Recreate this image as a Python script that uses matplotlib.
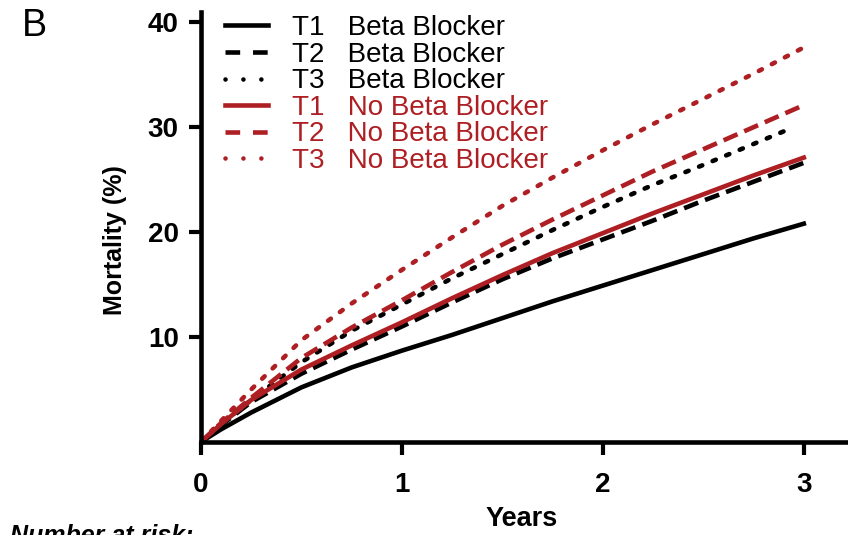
import matplotlib.pyplot as plt
from matplotlib.lines import Line2D

# follow-up times (years) and cumulative mortality (%) for each group
years = [0, 0.1, 0.25, 0.5, 0.75, 1.0, 1.25, 1.5, 1.75, 2.0, 2.25, 2.5, 2.75, 3.0]
bb_t1 = [0, 1.2, 2.8, 5.2, 7.1, 8.7, 10.2, 11.8, 13.4, 14.9, 16.4, 17.9, 19.4, 20.8]
bb_t2 = [0, 1.6, 3.8, 6.5, 8.8, 11.0, 13.3, 15.5, 17.5, 19.3, 21.1, 23.0, 24.8, 26.6]
bb_t3 = [0, 1.7, 4.0, 7.6, 10.6, 13.1, 15.6, 17.9, 20.2, 22.4, 24.5, 26.4, 28.4, 30.0]
nb_t1 = [0, 1.7, 4.0, 6.9, 9.2, 11.4, 13.7, 15.9, 18.0, 19.9, 21.8, 23.6, 25.4, 27.1]
nb_t2 = [0, 1.8, 4.2, 8.0, 10.9, 13.5, 16.2, 18.8, 21.2, 23.5, 25.8, 27.9, 30.0, 32.1]
nb_t3 = [0, 2.0, 5.0, 9.7, 13.2, 16.4, 19.5, 22.5, 25.2, 27.8, 30.3, 32.7, 35.1, 37.6]

labels = ["T1   Beta Blocker", "T2   Beta Blocker", "T3   Beta Blocker",
          "T1   No Beta Blocker", "T2   No Beta Blocker", "T3   No Beta Blocker"]

plt.rcParams['font.family'] = ['Liberation Sans', 'DejaVu Sans']

red = '#ae1f24'
dashed = (3.3, 1.6)
dotted = (0.75, 2.45)

fig = plt.figure(figsize=(8.48, 5.35), dpi=100)
ax = fig.add_axes([0.237, 0.174, 0.763, 0.804])

lw = 3.3
# the last black dotted curve stops slightly before 3 years
ax.plot(years, bb_t1, color='black', lw=lw)
ax.plot(years, bb_t2, color='black', lw=lw, dashes=dashed)
ax.plot(years[:-1] + [2.95], bb_t3, color='black', lw=lw, dashes=dotted,
        dash_capstyle='round')
ax.plot(years, nb_t1, color=red, lw=lw)
ax.plot(years, nb_t2, color=red, lw=lw, dashes=dashed)
ax.plot(years, nb_t3, color=red, lw=lw, dashes=dotted, dash_capstyle='round')

ax.set_xlim(0, 3.22)
ax.set_ylim(0, 41)
ax.set_xticks([0, 1, 2, 3])
ax.set_yticks([10, 20, 30, 40])
for s in ['top', 'right']:
    ax.spines[s].set_visible(False)
for s in ['left', 'bottom']:
    ax.spines[s].set_linewidth(3.3)
ax.tick_params(axis='both', width=3, length=9, labelsize=20)
ax.tick_params(axis='x', pad=13)
ax.tick_params(axis='y', pad=7)
for t in ax.get_xticklabels() + ax.get_yticklabels():
    t.set_fontweight('bold')

ax.set_xlabel("Years", fontsize=19.5, fontweight='bold')
ax.xaxis.set_label_coords(0.496, -0.148)
ax.set_ylabel("Mortality (%)", fontsize=18, fontweight='bold')
ax.yaxis.set_label_coords(-0.114, 0.47)

# legend with line samples
handles = [
    Line2D([], [], color='black', lw=lw),
    Line2D([], [], color='black', lw=lw, dashes=(3.2, 2.8)),
    Line2D([], [], color='black', lw=lw, dashes=(0.01, 3.9), dash_capstyle='round'),
    Line2D([], [], color=red, lw=lw),
    Line2D([], [], color=red, lw=lw, dashes=(3.2, 2.8)),
    Line2D([], [], color=red, lw=lw, dashes=(0.01, 3.9), dash_capstyle='round'),
]
leg = ax.legend(handles, labels, loc='upper left', bbox_to_anchor=(0.02, 1.018),
                frameon=False, fontsize=20, handlelength=1.55, handletextpad=0.85,
                labelspacing=0.02, borderaxespad=0)
for i, txt in enumerate(leg.get_texts()):
    txt.set_color('black' if i < 3 else red)

fig.text(0.026, 0.985, "B", fontsize=27, va='top', ha='left')
fig.text(0.012, 0.021, "Number at risk:", fontsize=18, fontweight='bold',
         fontstyle='italic', va='top', ha='left')

fig.savefig('out.png', dpi=100)
